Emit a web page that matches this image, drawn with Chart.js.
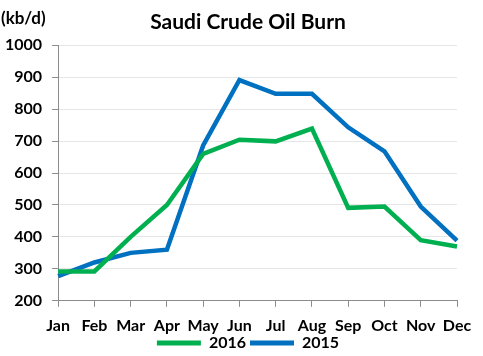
<!DOCTYPE html>
<html>
<head>
<meta charset="utf-8">
<script src="https://cdn.jsdelivr.net/npm/chart.js@4/dist/chart.umd.min.js"></script>
<style>
  html, body { margin: 0; padding: 0; background: #fff; }
  #wrap { position: relative; width: 483px; height: 356px; }
  #unit { position: absolute; left: 1px; top: 7px; font: bold 17px Lato, "Open Sans", sans-serif; color: #000; }
</style>
</head>
<body>
<div id="wrap">
  <canvas id="c" width="483" height="356"></canvas>
  <div id="unit">(kb/d)</div>
</div>
<script>
const categories = ["Jan","Feb","Mar","Apr","May","Jun","Jul","Aug","Sep","Oct","Nov","Dec"];
const series2016 = [292, 292, 400, 500, 660, 704, 699, 739, 491, 495, 390, 370];
const series2015 = [277, 320, 350, 360, 686, 891, 848, 848, 743, 668, 495, 388];
const yTicks = [200, 300, 400, 500, 600, 700, 800, 900, 1000];

const FONT = "Lato, 'Open Sans', sans-serif";
const GREEN = "#00B050";
const BLUE = "#0070C0";

const shiftBoxes = {
  id: "shiftBoxes",
  afterLayout(chart) {
    const dx = 22;
    [chart.legend, chart.titleBlock].forEach(b => { if (b) { b.left += dx; b.right += dx; } });
    if (chart.legend) { chart.legend.top -= 13; chart.legend.bottom -= 13; }
  }
};

new Chart(document.getElementById("c"), {
  type: "line",
  data: {
    labels: categories,
    datasets: [
      { label: "2016", data: series2016, borderColor: GREEN, backgroundColor: GREEN, borderWidth: 4.5, pointRadius: 0, tension: 0, borderCapStyle: "butt" },
      { label: "2015", data: series2015, borderColor: BLUE, backgroundColor: BLUE, borderWidth: 4.5, pointRadius: 0, tension: 0, borderCapStyle: "butt" }
    ]
  },
  plugins: [shiftBoxes],
  options: {
    responsive: false,
    animation: false,
    layout: { padding: { left: -5, right: 26, top: 0, bottom: -18 } },
    plugins: {
      title: {
        display: true,
        text: "Saudi Crude Oil Burn",
        color: "#000",
        font: { family: FONT, size: 21, weight: "bold" },
        padding: { top: 10, bottom: 10 }
      },
      legend: {
        position: "bottom",
        labels: {
          color: "#000",
          font: { family: FONT, size: 16, weight: "bold" },
          boxWidth: 44,
          boxHeight: 5,
          padding: 4,
          generateLabels: (chart) => {
            const items = Chart.defaults.plugins.legend.labels.generateLabels(chart);
            items.forEach(it => { it.lineWidth = 0; });
            return items;
          }
        }
      },
      tooltip: { enabled: false }
    },
    scales: {
      x: {
        offset: false,
        grid: { display: true, drawOnChartArea: false, drawTicks: true, tickLength: 6, tickColor: "#8c8c8c", color: "#8c8c8c" },
        border: { color: "#8c8c8c", width: 1 },
        ticks: { color: "#000", font: { family: FONT, size: 16, weight: "bold" }, maxRotation: 0, autoSkip: false, padding: 9 }
      },
      y: {
        min: 200,
        max: 1000,
        afterBuildTicks: (axis) => { axis.ticks = yTicks.map(v => ({ value: v })); },
        grid: { color: "#e6e6e6", tickColor: "#8c8c8c", tickLength: 6, drawTicks: true },
        border: { color: "#8c8c8c", width: 1 },
        ticks: { color: "#000", font: { family: FONT, size: 16, weight: "bold" }, padding: 10, callback: (v) => String(v) }
      }
    }
  }
});
</script>
</body>
</html>
